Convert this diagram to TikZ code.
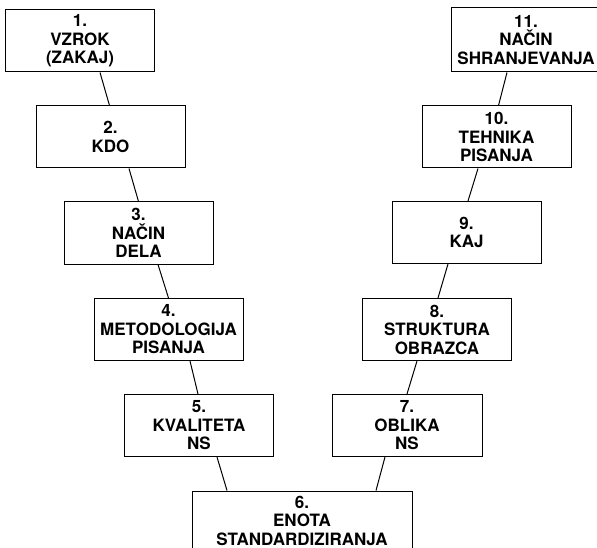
\documentclass[tikz,border=0pt]{standalone}
\usepackage{fontspec}
\setmainfont{TeX Gyre Heros}
\usetikzlibrary{calc}
\tikzset{
  box/.style={draw, line width=1pt, minimum width=149pt, minimum height=62pt,
    inner sep=0pt, align=center, font=\fontsize{17}{18.5}\selectfont\bfseries},
  link/.style={line width=1pt}
}

\begin{document}
\begin{tikzpicture}[x=1pt,y=-1pt]
\useasboundingbox (0,0) rectangle (597,548);
% left branch
\node [box] (vzrok) at (80,41) {1.\\VZROK\\(ZAKAJ)};
\node [box] (kdo) at (110.5,137) {2.\\KDO};
\node [box] (nacin) at (138.5,233) {3.\\NAČIN\\DELA};
\node [box] (metod) at (168.5,329.5) {4.\\METODOLOGIJA\\PISANJA};
\node [box] (kval) at (199,425.5) {5.\\KVALITETA\\NS};
% bottom, cut by the page edge
\node [box, minimum width=220pt, minimum height=59pt] (enota) at (302,520.5) {6.\\ENOTA\\STANDARDIZIRANJA};
% right branch
\node [box, minimum width=150pt] (oblika) at (407,425.5) {7.\\OBLIKA\\NS};
\node [box] (strukt) at (437,329.5) {8.\\STRUKTURA\\OBRAZCA};
\node [box] (kaj) at (466.5,232.5) {9.\\KAJ};
\node [box] (tehn) at (496.5,137) {10.\\TEHNIKA\\PISANJA};
\node [box, minimum height=64pt] (shranj) at (526,40) {11.\\NAČIN\\SHRANJEVANJA};
% connectors
\draw [link] ($(vzrok.south)+(20,0)$) -- ($(kdo.north)+(-1,0)$);
\draw [link] ($(kdo.south)+(18.5,0)$) -- (nacin.north);
\draw [link] ($(nacin.south)+(19.5,0)$) -- (metod.north);
\draw [link] ($(metod.south)+(21.5,0)$) -- ($(kval.north)+(-1,0)$);
\draw [link] ($(kval.south)+(18,0)$) -- ($(enota.north)+(-75,0)$);
\draw [link] ($(oblika.south)+(-22,0)$) -- ($(enota.north)+(74,0)$);
\draw [link] ($(strukt.south)+(-20,0)$) -- (oblika.north);
\draw [link] ($(kaj.south)+(-18.5,0)$) -- ($(strukt.north)+(1,0)$);
\draw [link] ($(tehn.south)+(-18.5,0)$) -- ($(kaj.north)+(1.5,0)$);
\draw [link] ($(shranj.south)+(-19,0)$) -- ($(tehn.north)+(2,0)$);
\end{tikzpicture}
\end{document}
